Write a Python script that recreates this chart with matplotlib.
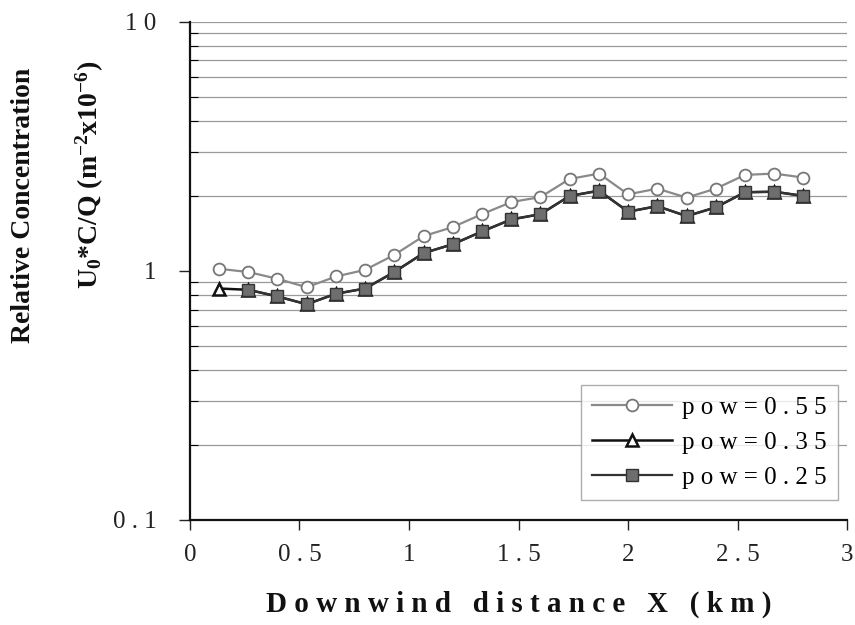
import matplotlib
matplotlib.use('Agg')
import matplotlib.pyplot as plt
from matplotlib.ticker import FixedLocator, FixedFormatter, NullFormatter

plt.rcParams['font.family'] = ['Liberation Serif', 'DejaVu Serif']
plt.rcParams['mathtext.default'] = 'regular'

# downwind stations (km)
x_km = [0.133, 0.267, 0.400, 0.533, 0.667, 0.800, 0.933, 1.067, 1.200, 1.333,
        1.467, 1.600, 1.733, 1.867, 2.000, 2.133, 2.267, 2.400, 2.533, 2.667, 2.800]

conc_055 = [1.02, 0.99, 0.93, 0.86, 0.95, 1.01, 1.16, 1.38, 1.50, 1.69,
            1.89, 1.98, 2.34, 2.46, 2.03, 2.14, 1.97, 2.14, 2.43, 2.46, 2.37]
conc_035 = [0.85, 0.84, 0.79, 0.735, 0.81, 0.85, 0.99, 1.18, 1.28, 1.44,
            1.61, 1.69, 2.00, 2.10, 1.73, 1.82, 1.66, 1.80, 2.07, 2.08, 2.00]
# pow=0.25 starts at the second station
x_025 = x_km[1:]
conc_025 = conc_035[1:]

labels = ['p o w = 0 . 5 5', 'p o w = 0 . 3 5', 'p o w = 0 . 2 5']

fig = plt.figure(figsize=(8.55, 6.25), dpi=100)
ax = fig.add_axes([0.222, 0.168, 0.769, 0.797])

ax.plot(x_km, conc_055, '-o', color='#8a8a8a', lw=1.6, ms=8.5,
        mfc='white', mec='#777777', mew=1.3, label=labels[0], zorder=3)
ax.plot(x_km, conc_035, '-^', color='#111111', lw=1.8, ms=9,
        mfc='white', mec='#111111', mew=1.8, label=labels[1], zorder=3)
ax.plot(x_025, conc_025, '-s', color='#333333', lw=1.6, ms=8,
        mfc='#6e6e6e', mec='#333333', mew=1.0, label=labels[2], zorder=4)

ax.set_yscale('log')
ax.set_ylim(0.1, 10)
ax.set_xlim(0, 3)

# gridlines on every decade subdivision
minor = [m * d for d in (0.1, 1.0) for m in range(2, 10)]
for v in minor + [10]:
    ax.axhline(v, color='#9a9a9a', lw=0.9, zorder=1)

ax.yaxis.set_major_locator(FixedLocator([0.1, 1, 10]))
ax.yaxis.set_major_formatter(FixedFormatter(['0 . 1', '1', '1 0']))
ax.yaxis.set_minor_locator(FixedLocator(minor))
ax.yaxis.set_minor_formatter(NullFormatter())
ax.tick_params(axis='y', which='major', direction='out', length=8, width=1,
               labelsize=18, pad=16, colors='#222222')
ax.tick_params(axis='y', which='minor', direction='in', length=6, width=0.8)

xt = [0, 0.5, 1, 1.5, 2, 2.5, 3]
ax.xaxis.set_major_locator(FixedLocator(xt))
ax.xaxis.set_major_formatter(FixedFormatter(['0', '0 . 5', '1', '1 . 5', '2', '2 . 5', '3']))
ax.tick_params(axis='x', direction='out', length=7, width=1, labelsize=18,
               pad=10, colors='#222222')

for s in ('top', 'right'):
    ax.spines[s].set_visible(False)
for s in ('left', 'bottom'):
    ax.spines[s].set_linewidth(1.6)
    ax.spines[s].set_color('#111111')

ax.set_xlabel('D o w n w i n d   d i s t a n c e   X   ( k m )',
              fontsize=21, fontweight='bold', labelpad=18, color='#111111')

fig.text(0.027, 0.672, 'Relative Concentration', rotation=90, fontsize=20,
         fontweight='bold', ha='center', va='center', color='#111111')
fig.text(0.105, 0.72, r'U$_0$*C/Q (m$^{-2}$x10$^{-6}$)', rotation=90,
         fontsize=20, fontweight='bold', ha='center', va='center', color='#111111')

leg = ax.legend(loc='lower right', bbox_to_anchor=(0.993, 0.03), fontsize=18,
                frameon=True, fancybox=False, edgecolor='#999999',
                handlelength=3.2, borderpad=0.45, labelspacing=0.5,
                handletextpad=0.4, borderaxespad=0.2)
leg.get_frame().set_linewidth(1.0)
leg.set_zorder(5)

fig.savefig('out.png', dpi=100)
